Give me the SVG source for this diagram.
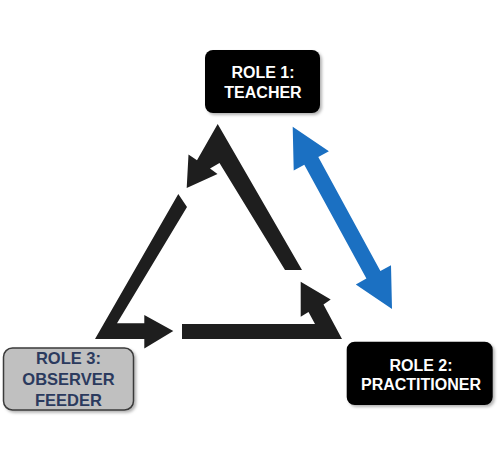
<svg xmlns="http://www.w3.org/2000/svg" width="499" height="451" viewBox="0 0 499 451">
<defs>
<filter id="sh" x="-10%" y="-10%" width="125%" height="130%">
<feDropShadow dx="2" dy="2" stdDeviation="1.8" flood-color="#000" flood-opacity="0.3"/>
</filter>
</defs>
<style>
.bg{fill:#ffffff}
.tri{fill:#1e1e1e}
.blue{fill:#1b70c2}
.dark{fill:#000000;filter:url(#sh)}
.grey{fill:#c0c0c0;stroke:#3a3a3a;stroke-width:1.5;filter:url(#sh)}
.lw{font-family:"Liberation Sans",Arial,sans-serif;font-weight:bold;font-size:16px;fill:#ffffff;text-anchor:middle}
.ln{font-family:"Liberation Sans",Arial,sans-serif;font-weight:bold;font-size:16.5px;fill:#2b3a5e;text-anchor:middle}
</style>
<rect class="bg" x="0" y="0" width="499" height="451"/>
<g id="connectors">
<polygon class="tri" points="302,270 217.7,124 197,160.3 188.5,154.5 186.7,188 217.5,174 210,168.5 219.5,163 285,270"/>
<polygon class="tri" points="178.3,194 95,339 144.3,339 144.3,348.5 173.3,331 144.3,315 144.3,323.3 117,323.3 187,207"/>
<polygon class="tri" points="182,324 315,324 308.5,312 300.7,316.7 300.7,281.7 330.7,299.5 323.5,304.5 342,339 182,339"/>
<polygon class="blue" points="292.7,126.7 328.9,151.3 318.3,157.1 380.4,271 391,265.2 392,309 355.8,284.4 366.4,278.6 304.3,164.7 293.7,170.5"/>
</g>
<g id="role1">
<rect class="dark" x="205" y="50" width="115" height="63" rx="8"/>
<text class="lw" x="263" y="77.5">ROLE 1:</text>
<text class="lw" x="263" y="97.5">TEACHER</text>
</g>
<g id="role2">
<rect class="dark" x="346.7" y="341.7" width="146" height="63.3" rx="8"/>
<text class="lw" x="421" y="371">ROLE 2:</text>
<text class="lw" x="421" y="389.5">PRACTITIONER</text>
</g>
<g id="role3">
<rect class="grey" x="3.5" y="348" width="130" height="62" rx="9"/>
<text class="ln" x="68.5" y="364.3">ROLE 3:</text>
<text class="ln" x="68.5" y="385.3">OBSERVER</text>
<text class="ln" x="68.5" y="406">FEEDER</text>
</g>
</svg>
